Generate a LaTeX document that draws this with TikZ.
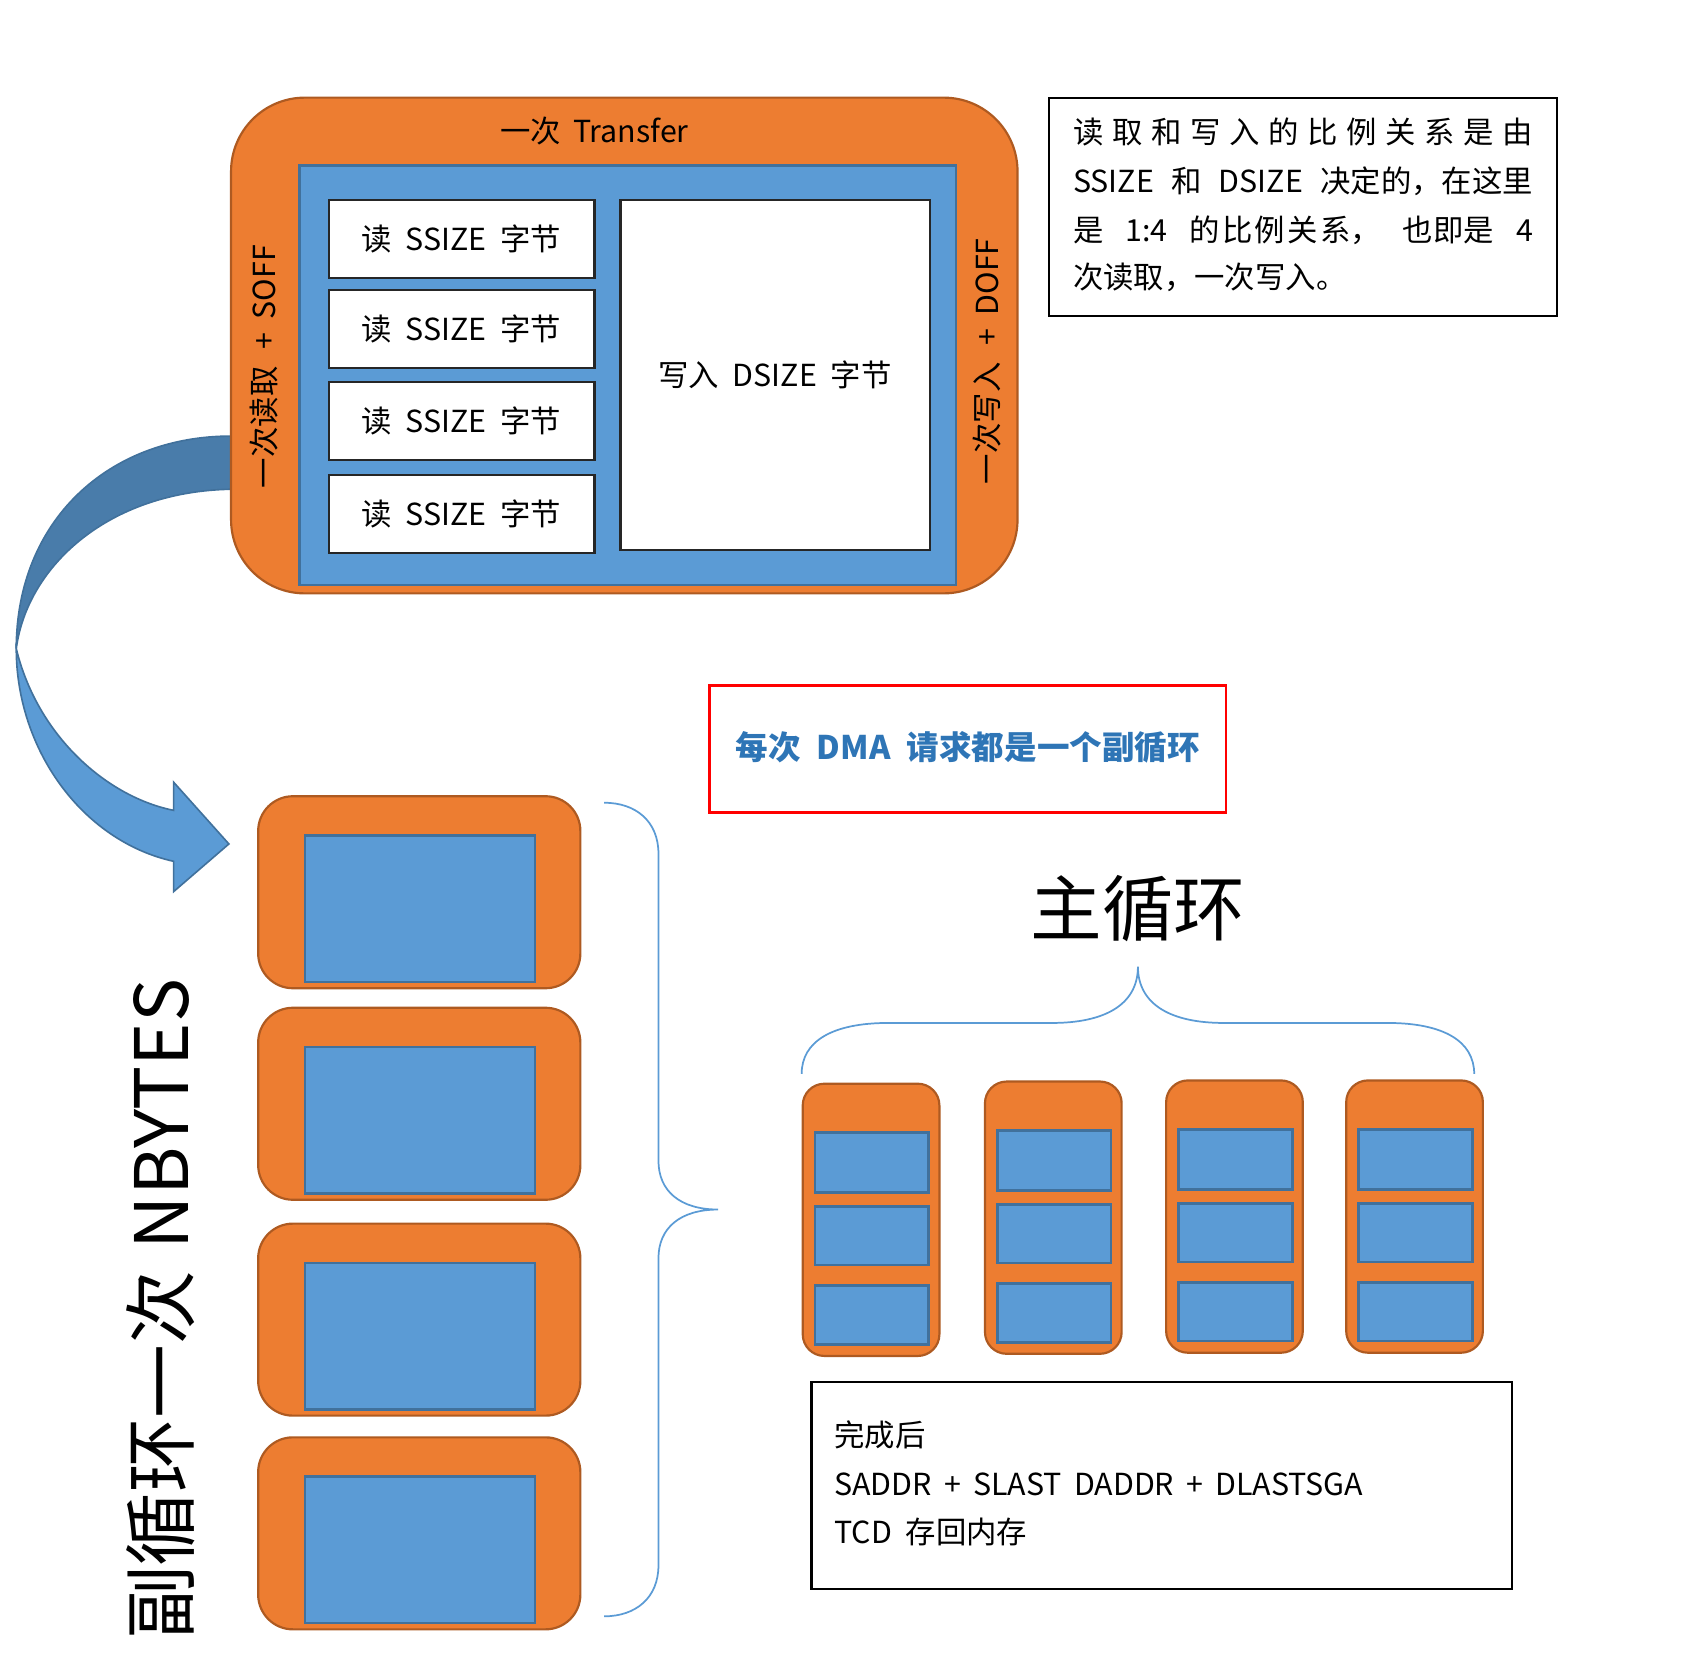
\documentclass[tikz,border=0pt]{standalone}
\usepackage{fontspec}
\setmainfont{Noto Sans CJK SC}
\definecolor{orF}{HTML}{ED7D31}
\definecolor{orD}{HTML}{AE5A21}
\definecolor{blF}{HTML}{5B9BD5}
\definecolor{blD}{HTML}{41719C}
\definecolor{blDark}{HTML}{497CAA}
\definecolor{txtBlue}{HTML}{2E75B6}
\begin{document}
\begin{tikzpicture}[x=1pt,y=-1pt,
  obox/.style={fill=orF,draw=orD,line width=2pt,inner sep=0pt,anchor=north west},
  bbox/.style={fill=blF,draw=blD,line width=2.5pt,inner sep=0pt,anchor=north west},
  wbox/.style={fill=white,draw=black!85,line width=2pt,inner sep=0pt,anchor=north west},
  txt/.style={inner sep=0pt,font=\fontsize{28}{34}\selectfont},
  bracestyle/.style={draw=blF,line width=1.6pt},
  arrowband/.style={draw=blD,line width=1.5pt}]
\useasboundingbox (0,0) rectangle (1569,1537);

% curved arrow
\path[arrowband,fill=blF] (15,598) .. controls (15,690) and (75,775) .. (160,794)
  -- (160,822) -- (211,778) -- (160,721) -- (160,747)
  .. controls (100,735) and (35,680) .. (15,598) -- cycle;
\path[arrowband,fill=blDark] (213,402) .. controls (100,402) and (15,480) .. (15,598)
  .. controls (25,522) and (100,453) .. (213,451) -- cycle;

% top transfer box
\node[obox,rounded corners=68pt,minimum width=725pt,minimum height=457pt] (transfer) at (212,89) {};
\node[bbox,minimum width=605pt,minimum height=387pt] (inner) at (275,151) {};
\foreach \i/\y in {1/183,2/266,3/351,4/437}{
  \node[wbox,minimum width=245pt,minimum height=72pt] (rd\i) at (302,\y) {};
  \node[txt] (rdt\i) at (rd\i.center) {读\hspace{0.45em}SSIZE\hspace{0.45em}字节};
}
\node[wbox,minimum width=285pt,minimum height=323pt] (wr) at (571,183) {};
\node[txt] (wrt) at (wr.center) {写入\hspace{0.45em}DSIZE\hspace{0.45em}字节};
\node[txt] (ttl) at (548,121) {一次\hspace{0.4em}Transfer};
\node[txt,rotate=90] (soff) at (243,338) {一次读取\hspace{0.55em}+\hspace{0.45em}SOFF};
\node[txt,rotate=90] (doff) at (910,333) {一次写入\hspace{0.55em}+\hspace{0.45em}DOFF};

% ratio note
\node[draw=black,line width=2pt,fill=white,inner sep=0pt,anchor=north west,minimum width=468pt,minimum height=201pt] (note) at (966,89) {};
\node[txt,anchor=west] (n1) at (989,122) {\makebox[424pt][s]{读\hfill 取\hfill 和\hfill 写\hfill 入\hfill 的\hfill 比\hfill 例\hfill 关\hfill 系\hfill 是\hfill 由}};
\node[txt,anchor=west] (n2) at (989,167) {\makebox[424pt][s]{SSIZE\hfill 和\hfill DSIZE\hfill 决定的，在这里}};
\node[txt,anchor=west] (n3) at (989,212) {\makebox[424pt][s]{是\hfill 1:4\hfill 的\hspace{2pt}比\hspace{2pt}例\hspace{2pt}关\hspace{2pt}系，\hfill 也即是\hfill 4}};
\node[txt,anchor=west] (n4) at (989,256) {次读取，一次写入。};

% red note
\node[draw=red,line width=2.5pt,inner sep=0pt,anchor=north west,minimum width=476pt,minimum height=117pt] (dma) at (653,631) {};
\node[txt,font=\fontsize{30}{36}\selectfont\bfseries,text=txtBlue] (dmat) at (892,689) {每次\hspace{0.5em}DMA\hspace{0.5em}请求都是一个副循环};

% minor loops (left)
\foreach \i/\y in {1/733,2/928,3/1127,4/1324}{
  \node[obox,rounded corners=32pt,minimum width=297pt,minimum height=177pt] (ml\i) at (237,\y) {};
  \node[bbox,minimum width=212pt,minimum height=135pt] (mlb\i) at (280,\y+36) {};
}
\node[inner sep=0pt,rotate=90,font=\fontsize{68}{80}\selectfont] (nbytes) at (148,1207) {副循环一次\hspace{0.3em}NBYTES};

% vertical brace
\coordinate (vb1) at (557,740);
\coordinate (vbtip) at (662,1115);
\coordinate (vb2) at (557,1490);
\draw[bracestyle] (vb1) .. controls (586,740) and (607,757) .. (607,787) -- (607,1070)
  .. controls (607,1098) and (627,1115) .. (vbtip)
  .. controls (627,1115) and (607,1132) .. (607,1160) -- (607,1443)
  .. controls (607,1473) and (586,1490) .. (vb2);

% major loop
\node[inner sep=0pt,font=\fontsize{66}{78}\selectfont] (major) at (1049,838) {主循环};
\coordinate (hb1) at (739,990);
\coordinate (hbtip) at (1049,891);
\coordinate (hb2) at (1359,990);
\draw[bracestyle] (hb1) .. controls (739,960) and (767,943) .. (819,943) -- (970,943)
  .. controls (1017,943) and (1049,927) .. (hbtip)
  .. controls (1049,927) and (1081,943) .. (1128,943) -- (1279,943)
  .. controls (1331,943) and (1359,960) .. (hb2);

\foreach \i/\x/\y in {1/739/998,2/907/996,3/1074/995,4/1240/995}{
  \node[obox,rounded corners=20pt,minimum width=126pt,minimum height=251pt] (col\i) at (\x,\y) {};
  \node[bbox,minimum width=105pt,minimum height=55pt] (c\i a) at (\x+11,\y+45) {};
  \node[bbox,minimum width=105pt,minimum height=54pt] (c\i b) at (\x+11,\y+113) {};
  \node[bbox,minimum width=105pt,minimum height=54pt] (c\i c) at (\x+11,\y+186) {};
}

% completion note
\node[draw=black,line width=2pt,inner sep=0pt,anchor=north west,minimum width=646pt,minimum height=191pt] (done) at (747,1273) {};
\node[txt,anchor=west] (d1) at (769,1323) {完成后};
\node[txt,anchor=west] (d2) at (769,1368) {SADDR\hspace{0.4em}+\hspace{0.4em}SLAST\hspace{0.4em}DADDR\hspace{0.4em}+\hspace{0.4em}DLASTSGA};
\node[txt,anchor=west] (d3) at (769,1412) {TCD\hspace{0.45em}存回内存};
\end{tikzpicture}
\end{document}
